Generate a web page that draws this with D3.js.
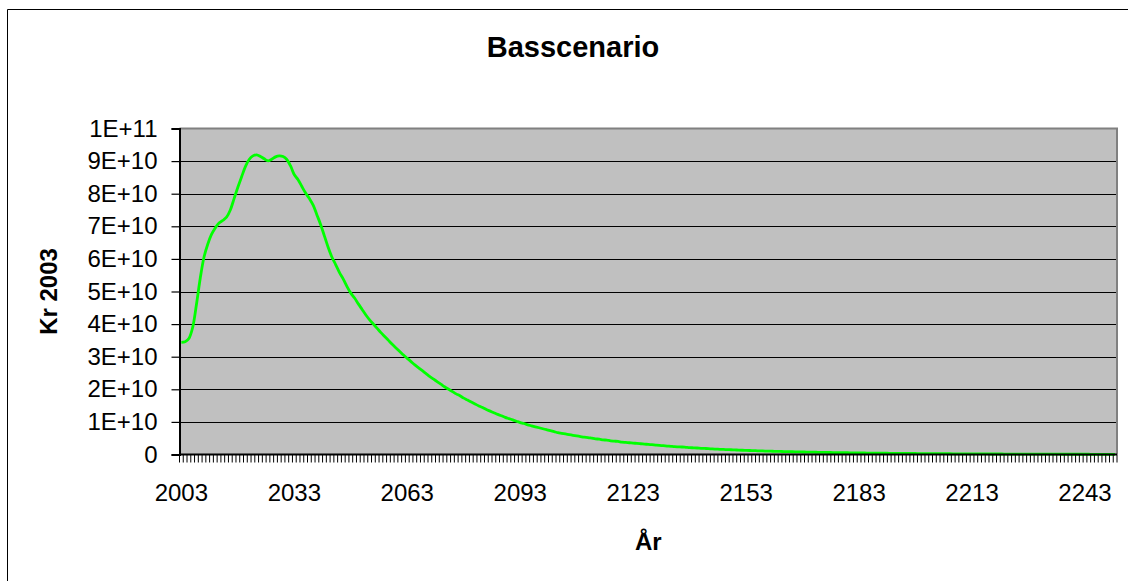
<!DOCTYPE html>
<html>
<head>
<meta charset="utf-8">
<script src="https://cdn.jsdelivr.net/npm/d3@7"></script>
<style>
  html, body { margin: 0; padding: 0; background: #fff; overflow: hidden; }
  svg { display: block; font-family: "Liberation Sans", Arial, sans-serif; }
</style>
</head>
<body>
<svg id="chart" width="1128" height="581"></svg>
<script>
// ---------------- data ----------------
const title = "Basscenario";
const xTitle = "År";
const yTitle = "Kr 2003";
const firstYear = 2003;
const lastYear = 2251;
const years = d3.range(firstYear, lastYear + 1);
const xTickLabels = ["2003", "2033", "2063", "2093", "2123", "2153", "2183", "2213", "2243"];
const yTickValues = [0, 1e10, 2e10, 3e10, 4e10, 5e10, 6e10, 7e10, 8e10, 9e10, 1e11];
const yTickLabels = ["0", "1E+10", "2E+10", "3E+10", "4E+10", "5E+10", "6E+10", "7E+10", "8E+10", "9E+10", "1E+11"];
// values in units of 1E+10 kr, one per year from 2003
const unit = 1e10;
const values = [
  3.44, 3.46, 3.56, 3.90, 4.60, 5.40, 6.05, 6.45, 6.75, 6.95,
  7.10, 7.18, 7.28, 7.50, 7.85, 8.20, 8.52, 8.83, 9.05, 9.16,
  9.19, 9.14, 9.07, 9.01, 9.06, 9.13, 9.16, 9.14, 9.05, 8.85,
  8.58, 8.43, 8.22, 8.02, 7.85, 7.65, 7.35, 7.05, 6.70, 6.35,
  6.05, 5.82, 5.58, 5.38, 5.15, 4.95, 4.80, 4.62, 4.45, 4.28,
  4.13, 4.00, 3.87, 3.74, 3.62, 3.50, 3.38, 3.27, 3.16, 3.05,
  2.95, 2.85, 2.75, 2.66, 2.57, 2.48, 2.39, 2.31, 2.23, 2.15,
  2.07, 2.00, 1.93, 1.86, 1.80, 1.73, 1.67, 1.61, 1.55, 1.49,
  1.44, 1.38, 1.33, 1.28, 1.23, 1.19, 1.14, 1.10, 1.06, 1.02,
  0.98, 0.95, 0.91, 0.88, 0.85, 0.82, 0.79, 0.76, 0.73, 0.70,
  0.67, 0.65, 0.63, 0.61, 0.59, 0.57, 0.55, 0.53, 0.52, 0.50,
  0.48, 0.47, 0.45, 0.44, 0.42, 0.41, 0.40, 0.38, 0.37, 0.36,
  0.35, 0.34, 0.33, 0.32, 0.31, 0.30, 0.29, 0.28, 0.27, 0.26,
  0.25, 0.24, 0.235, 0.23, 0.22, 0.21, 0.205, 0.20, 0.19, 0.185,
  0.18, 0.17, 0.165, 0.16, 0.155, 0.15, 0.145, 0.14, 0.135, 0.13,
  0.126, 0.122, 0.118, 0.114, 0.110, 0.106, 0.103, 0.100, 0.097, 0.094,
  0.091, 0.088, 0.085, 0.082, 0.080, 0.077, 0.075, 0.073, 0.070, 0.068,
  0.066, 0.064, 0.062, 0.060, 0.058, 0.056, 0.054, 0.053, 0.051, 0.050,
  0.048, 0.047, 0.045, 0.044, 0.042, 0.041, 0.040, 0.039, 0.037, 0.036,
  0.035, 0.034, 0.033, 0.032, 0.031, 0.030, 0.029, 0.028, 0.027, 0.026,
  0.025, 0.025, 0.024, 0.024, 0.023, 0.022, 0.021, 0.021, 0.020, 0.019,
  0.019, 0.018, 0.018, 0.017, 0.017, 0.016, 0.016, 0.015, 0.015, 0.014,
  0.014, 0.013, 0.013, 0.012, 0.012, 0.012, 0.011, 0.011, 0.010, 0.010,
  0.010, 0.009, 0.009, 0.009, 0.008, 0.008, 0.008, 0.008, 0.007, 0.007,
  0.007, 0.007, 0.006, 0.006, 0.006, 0.006, 0.006, 0.005, 0.005
];

// ---------------- layout ----------------
const svg = d3.select("#chart");
const plot = { left: 179.5, right: 1117, top: 128.5, bottom: 454.5 };
const tickFont = 24;

// outer chart border: only left and top edges fall inside the window
svg.append("path")
  .attr("d", "M7.5,581 V9.5 H1128")
  .attr("fill", "none").attr("stroke", "#000").attr("stroke-width", 1);

const x = d3.scaleBand().domain(years).range([plot.left, plot.right]).paddingInner(0).paddingOuter(0);
const y = d3.scaleLinear().domain([0, 1e11]).range([plot.bottom, plot.top]);

// plot area background
svg.append("rect")
  .attr("x", plot.left).attr("y", plot.top)
  .attr("width", plot.right - plot.left).attr("height", plot.bottom - plot.top)
  .attr("fill", "#C0C0C0");

// gridlines
svg.append("g").selectAll("line")
  .data(yTickValues.slice(1, -1))
  .join("line")
  .attr("x1", plot.left).attr("x2", plot.right)
  .attr("y1", d => Math.round(y(d)) + 0.5).attr("y2", d => Math.round(y(d)) + 0.5)
  .attr("stroke", "#000").attr("stroke-width", 1);

// plot area border (top, right)
svg.append("path")
  .attr("d", `M${plot.left},${plot.top} H${plot.right} V${plot.bottom}`)
  .attr("fill", "none").attr("stroke", "#808080").attr("stroke-width", 2);

// line
const line = d3.line()
  .x((d, i) => x(years[i]) + x.bandwidth() / 2)
  .y(d => y(d * unit))
  .curve(d3.curveCatmullRom.alpha(0.5));

svg.append("path")
  .datum(values)
  .attr("d", line)
  .attr("fill", "none")
  .attr("stroke", "#00FF00")
  .attr("stroke-width", 2.8)
  .attr("stroke-linejoin", "round");

// y axis
const yAxis = d3.axisLeft(y)
  .tickValues(yTickValues)
  .tickFormat((d, i) => yTickLabels[i])
  .tickSize(8)
  .tickPadding(14);
const gy = svg.append("g").attr("transform", `translate(${plot.left},0)`).call(yAxis);
gy.select(".domain").attr("stroke", "#000").attr("stroke-width", 2);
gy.selectAll(".tick line").attr("stroke", "#000").attr("stroke-width", 1.2);
gy.selectAll(".tick text")
  .attr("font-size", tickFont)
  .attr("font-family", "Liberation Sans, Arial, sans-serif")
  .attr("fill", "#000");

// x axis: tick mark at every category boundary
const boundaries = years.map(yr => x(yr)).concat([plot.right]);
const gx = svg.append("g");
gx.selectAll("line.tk")
  .data(boundaries)
  .join("line")
  .attr("class", "tk")
  .attr("x1", d => d).attr("x2", d => d)
  .attr("y1", plot.bottom).attr("y2", plot.bottom + 8)
  .attr("stroke", "#000").attr("stroke-width", 1);
gx.append("line")
  .attr("x1", plot.left).attr("x2", plot.right)
  .attr("y1", plot.bottom).attr("y2", plot.bottom)
  .attr("stroke", "#000").attr("stroke-width", 2);
gx.selectAll("text")
  .data(xTickLabels)
  .join("text")
  .attr("x", d => x(+d) + x.bandwidth() / 2)
  .attr("y", 501)
  .attr("text-anchor", "middle")
  .attr("font-size", tickFont)
  .attr("fill", "#000")
  .text(d => d);

// titles
svg.append("text")
  .attr("x", 573).attr("y", 57)
  .attr("text-anchor", "middle")
  .attr("font-size", 29).attr("font-weight", "bold")
  .text(title);

svg.append("text")
  .attr("x", (plot.left + plot.right) / 2).attr("y", 550)
  .attr("text-anchor", "middle")
  .attr("font-size", 24).attr("font-weight", "bold")
  .text(xTitle);

svg.append("text")
  .attr("transform", `translate(57,${(plot.top + plot.bottom) / 2}) rotate(-90)`)
  .attr("text-anchor", "middle")
  .attr("font-size", 24).attr("font-weight", "bold")
  .text(yTitle);
</script>
</body>
</html>
